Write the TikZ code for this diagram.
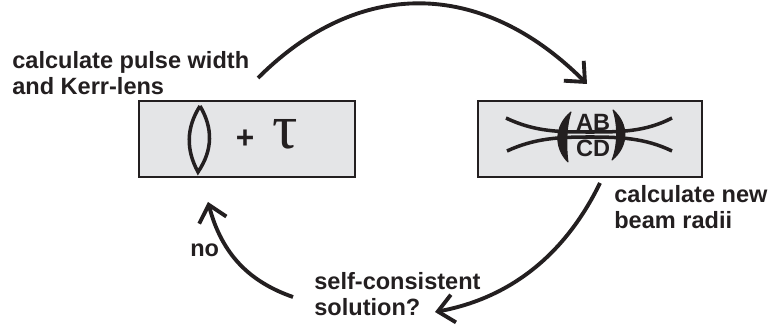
\documentclass[tikz,border=0pt]{standalone}
\usepackage{fontspec}
\setmainfont{Liberation Sans}
\newfontfamily\taufont{Liberation Serif}
\usepackage{tikz}
\usetikzlibrary{arrows.meta,positioning}
\definecolor{panelgray}{RGB}{228,229,231}
\definecolor{inkblack}{RGB}{35,31,32}

\begin{document}
\begin{tikzpicture}[x=0.02cm, y=-0.02cm,
  panel/.style={rectangle, draw=inkblack, fill=panelgray, line width=1.1pt, minimum height=1.51cm, inner sep=0pt},
  label/.style={align=left, anchor=west, text=inkblack, font=\fontsize{13.4}{14.6}\selectfont\bfseries, inner sep=0pt},
  loopedge/.style={-{Straight Barb[length=9pt, width=16pt, line width=2.2pt]}, draw=inkblack, line width=2.2pt},
  optics/.style={draw=inkblack, line width=2pt},
  paren/.style={fill=inkblack, draw=inkblack, line width=0.6pt, line join=round}
]
\useasboundingbox (0,0) rectangle (768,327);

% --------- PANELS ----------
\node[panel, minimum width=4.32cm] (lensbox) at (247,139) {};
\node[panel, minimum width=4.48cm] (matrixbox) at (590,139) {};

% lens + tau
\coordinate (lenstop) at (200,106);
\coordinate (lensbot) at (198,172);
\draw[optics] (lenstop) .. controls (186,128) and (186,150) .. (lensbot)
  .. controls (213,150) and (213,128) .. (lenstop);
\node[font=\fontsize{18}{18}\selectfont\bfseries, text=inkblack, inner sep=0pt] (plus) at (245,139) {+};
\node[font=\taufont\fontsize{36}{36}\selectfont, text=inkblack, inner sep=0pt] (tau) at (285,134) {τ};

% beam and matrix
\draw[optics] (506,118) .. controls (535,132) and (560,132) .. (590,132)
  .. controls (620,132) and (645,132) .. (672,118);
\draw[optics] (507,151) .. controls (535,138) and (560,137) .. (590,137)
  .. controls (620,137) and (645,138) .. (672,151);
\fill[paren] (571,112) .. controls (554,126) and (554,148) .. (568,162)
  .. controls (566,148) and (566,126) .. (571,112) -- cycle;
\fill[paren] (613,110) .. controls (629,124) and (629,146) .. (612,160)
  .. controls (618,146) and (618,124) .. (613,110) -- cycle;
\node[label, anchor=center] (ab) at (593,122) {AB};
\node[label, anchor=center] (cd) at (593,148) {CD};

% --------- LOOP ----------
\coordinate (topstart) at (258,78);
\coordinate (toptip) at (587,84);
\coordinate (rightstart) at (600,183);
\coordinate (righttip) at (435,312);
\coordinate (leftstart) at (293,297);
\coordinate (lefttip) at (208,202);

\draw[loopedge] (topstart) .. controls (358,-22) and (481,-22) .. (toptip);
\draw[loopedge] (rightstart) .. controls (565,255) and (510,298) .. (righttip);
\draw[loopedge] (leftstart) .. controls (250,282) and (222,255) .. (lefttip);

% --------- LABELS ----------
\node[label] (pulse) at (12,73) {calculate pulse width\\and Kerr-lens};
\node[label] (radii) at (614,207) {calculate new\\beam radii};
\node[label] (no) at (190,250) {no};
\node[label] (selfcons) at (314,294) {self-consistent\\solution?};

\end{tikzpicture}
\end{document}
